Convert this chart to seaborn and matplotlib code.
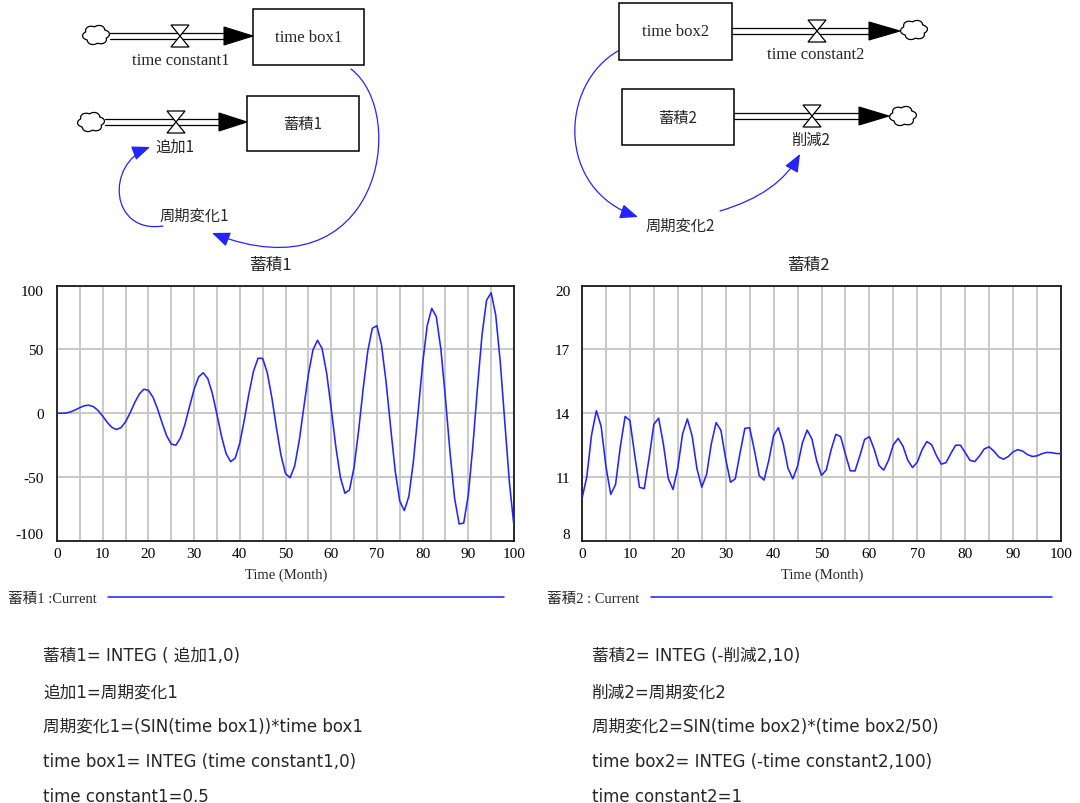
import numpy as np
import pandas as pd
import matplotlib
matplotlib.use("Agg")
import matplotlib.pyplot as plt
import seaborn as sns
from matplotlib.path import Path
from matplotlib.patches import FancyArrowPatch, Rectangle, Polygon

# ---------------- data ----------------
months = list(range(0, 101))

stock1 = [0.0, 0.0, 0.2, 1.1, 2.6, 4.4, 5.9, 6.3, 5.1, 2.1,
          -2.3, -7.1, -11.0, -12.7, -11.3, -6.7, 0.3, 8.3, 15.0, 18.8,
          18.0, 12.6, 3.4, -7.6, -17.7, -24.1, -25.0, -19.5, -8.7, 5.2,
          18.8, 28.5, 31.7, 27.1, 15.4, -1.0, -18.1, -31.6, -37.9, -35.1,
          -23.3, -5.0, 15.4, 33.0, 43.1, 42.9, 31.9, 12.5, -11.0, -32.7,
          -47.2, -50.5, -41.4, -21.5, 4.4, 30.2, 49.5, 57.1, 50.7, 31.5,
          3.7, -25.9, -50.1, -62.6, -60.0, -42.3, -13.6, 19.4, 48.6, 66.5,
          68.5, 53.5, 24.8, -10.9, -45.0, -68.8, -76.2, -65.0, -37.3, 0.3,
          38.7, 68.5, 82.1, 75.6, 50.1, 11.6, -30.7, -66.5, -86.7, -85.9,
          -63.9, -25.6, 19.8, 61.3, 88.5, 94.3, 76.8, 39.9, -7.6, -54.4,
          -88.7]

stock2 = [10.00, 11.01, 12.99, 14.12, 13.38, 11.49, 10.19, 10.65, 12.42, 13.85,
          13.66, 12.05, 10.52, 10.46, 11.89, 13.48, 13.77, 12.54, 10.94, 10.42,
          11.44, 13.03, 13.73, 12.93, 11.39, 10.53, 11.12, 12.57, 13.56, 13.20,
          11.85, 10.76, 10.92, 12.14, 13.29, 13.32, 12.25, 11.07, 10.86, 11.78,
          12.96, 13.32, 12.57, 11.42, 10.92, 11.51, 12.60, 13.21, 12.79, 11.76,
          11.08, 11.34, 12.28, 13.01, 12.90, 12.07, 11.30, 11.29, 12.00, 12.77,
          12.90, 12.31, 11.55, 11.33, 11.80, 12.52, 12.82, 12.46, 11.80, 11.45,
          11.70, 12.29, 12.67, 12.52, 12.01, 11.61, 11.68, 12.11, 12.50, 12.50,
          12.15, 11.79, 11.73, 12.00, 12.33, 12.42, 12.22, 11.95, 11.84, 11.97,
          12.19, 12.29, 12.22, 12.06, 11.97, 12.00, 12.10, 12.16, 12.15, 12.11,
          12.10]

x_ticks = [0, 10, 20, 30, 40, 50, 60, 70, 80, 90, 100]
x_grid = list(range(0, 101, 5))
y_ticks1 = [-100, -50, 0, 50, 100]
y_ticks2 = [8, 11, 14, 17, 20]
titles = ["蓄積1", "蓄積2"]
legend_labels = ["蓄積1 :Current", "蓄積2 : Current"]
x_label = "Time (Month)"

eq_left = ["蓄積1= INTEG ( 追加1,0)",
           "追加1=周期変化1",
           "周期変化1=(SIN(time box1))*time box1",
           "time box1= INTEG (time constant1,0)",
           "time constant1=0.5"]
eq_right = ["蓄積2= INTEG (-削減2,10)",
            "削減2=周期変化2",
            "周期変化2=SIN(time box2)*(time box2/50)",
            "time box2= INTEG (-time constant2,100)",
            "time constant2=1"]

# ---------------- style ----------------
W, H = 1080, 804
sns.set_theme(style="white")
SERIF = ['Liberation Serif', 'Noto Sans CJK JP']
SANS = ['DejaVu Sans', 'Noto Sans CJK JP']
CJK = ['Noto Sans CJK JP', 'DejaVu Sans']
plt.rcParams['font.family'] = SERIF
plt.rcParams['axes.unicode_minus'] = False

BLUE = '#2424ff'
GRID = '#c8c8c8'

fig = plt.figure(figsize=(W / 100, H / 100), dpi=100)
fig.patch.set_facecolor('white')


def rect(l, t, r, b):
    return [l / W, 1 - b / H, (r - l) / W, (b - t) / H]


def ftext(x, y, s, **kw):
    fig.text(x / W, 1 - y / H, s, **kw)


# ---------------- diagram overlay (pixel coordinates) ----------------
ov = fig.add_axes([0, 0, 1, 1])
ov.set_xlim(0, W)
ov.set_ylim(H, 0)
ov.axis('off')


def cloud(cx, cy, w=27, h=20):
    th = np.linspace(0, 2 * np.pi, 240)
    r = 0.82 + 0.18 * np.abs(np.cos(3 * th + 0.4))
    pts = np.column_stack([cx + w / 2 * r * np.cos(th), cy + h / 2 * r * np.sin(th)])
    ov.add_patch(Polygon(pts, closed=True, facecolor='white', edgecolor='black', lw=0.9, zorder=3))


def valve(cx, cy, hw=9, hh=11):
    ov.add_patch(Polygon([(cx - hw, cy - hh), (cx + hw, cy - hh), (cx, cy)], closed=True,
                         facecolor='white', edgecolor='black', lw=0.9, zorder=4))
    ov.add_patch(Polygon([(cx - hw, cy + hh), (cx + hw, cy + hh), (cx, cy)], closed=True,
                         facecolor='white', edgecolor='black', lw=0.9, zorder=4))


def pipe(x0, xb, xt, cy):
    for dy in (-2.6, 2.6):
        ov.plot([x0, xb], [cy + dy, cy + dy], color='black', lw=0.9, zorder=2)
    ov.add_patch(Polygon([(xb, cy - 9), (xb, cy + 9), (xt, cy)], closed=True,
                         facecolor='black', edgecolor='black', lw=0.8, zorder=3))


def box(l, t, r, b, label, fam, size):
    ov.add_patch(Rectangle((l, t), r - l, b - t, facecolor='white', edgecolor='black', lw=1.1, zorder=3))
    ov.text((l + r) / 2, (t + b) / 2, label, ha='center', va='center', family=fam, fontsize=size, zorder=5)


def link(verts):
    codes = [Path.MOVETO, Path.CURVE4, Path.CURVE4, Path.CURVE4]
    p = FancyArrowPatch(path=Path(verts, codes), arrowstyle='-|>,head_length=1.1,head_width=0.45',
                        mutation_scale=10, color=BLUE, lw=0.9, zorder=2)
    ov.add_patch(p)


# left diagram
pipe(110, 224, 253, 37)
cloud(96, 36)
valve(180, 37)
box(253, 10, 364, 66, "time box1", SERIF, 12)
ov.text(181, 61, "time constant1", ha='center', va='center', family=SERIF, fontsize=12)

pipe(105, 219, 247, 123)
cloud(91, 123)
valve(176, 123)
box(247, 97, 359, 152, "蓄積1", CJK, 11)
ov.text(175, 147, "追加1", ha='center', va='center', family=CJK, fontsize=11)
ov.text(194, 216, "周期変化1", ha='center', va='center', family=CJK, fontsize=11)

link([(351, 70), (410, 115), (380, 300), (212, 234)])
link([(163, 227), (110, 235), (105, 165), (150, 148)])

# right diagram
box(619, 4, 732, 61, "time box2", SERIF, 12)
pipe(732, 869, 900, 32)
valve(817, 32)
cloud(914, 31)
ov.text(816, 55, "time constant2", ha='center', va='center', family=SERIF, fontsize=12)

box(622, 90, 734, 146, "蓄積2", CJK, 11)
pipe(734, 859, 889, 117)
valve(812, 117)
cloud(903, 117)
ov.text(810, 140, "削減2", ha='center', va='center', family=CJK, fontsize=11)
ov.text(680, 226, "周期変化2", ha='center', va='center', family=CJK, fontsize=11)

link([(618, 52), (560, 85), (555, 190), (638, 218)])
link([(720, 212), (760, 200), (785, 182), (800, 155)])


# ---------------- charts ----------------
def draw_chart(bx, values, yticks, title, title_x, xlabel_x, leg_label, leg_xy, handle_len, ypad):
    ax = fig.add_axes(rect(*bx))
    df = pd.DataFrame({'month': months, 'value': values})
    sns.lineplot(data=df, x='month', y='value', ax=ax, color=BLUE, lw=1.15,
                 label=leg_label, zorder=3)
    ax.set_xlim(x_ticks[0], x_ticks[-1])
    ax.set_ylim(yticks[0], yticks[-1])
    ax.set_xticks(x_ticks)
    ax.set_xticks(x_grid, minor=True)
    ax.set_yticks(yticks)
    ax.grid(True, which='both', axis='x', color=GRID, lw=1.4)
    ax.grid(True, which='major', axis='y', color=GRID, lw=1.4)
    ax.set_axisbelow(True)
    ax.set_facecolor('white')
    ax.tick_params(axis='both', which='both', length=0, labelsize=11, colors='black')
    ax.tick_params(axis='x', pad=4.5)
    ax.tick_params(axis='y', pad=ypad)
    for lab in ax.get_xticklabels() + ax.get_yticklabels():
        lab.set_family(SERIF)
    ticks = ax.yaxis.get_major_ticks()
    ticks[0].label1.set_va('bottom')
    ticks[-1].label1.set_va('top')
    for sp in ax.spines.values():
        sp.set_visible(True)
        sp.set_color('#1a1a1a')
        sp.set_linewidth(1.3)
    ax.set_xlabel('')
    ax.set_ylabel('')
    ftext(title_x, 265, title, ha='center', va='center', family=CJK, fontsize=12)
    ftext(xlabel_x, 575, x_label, ha='center', va='center', family=SERIF, fontsize=10.5)
    ax.legend(loc='center left', bbox_to_anchor=(leg_xy[0] / W, 1 - leg_xy[1] / H),
              bbox_transform=fig.transFigure, markerfirst=False, frameon=False,
              handlelength=handle_len, handletextpad=0.8, borderpad=0, borderaxespad=0,
              prop={'family': SERIF, 'size': 10.5})
    return ax


draw_chart((57, 286.5, 514, 542), stock1, y_ticks1, titles[0], 270, 286, legend_labels[0],
           (8, 599), 27.1, 9.5)
draw_chart((582, 286.5, 1061, 542), stock2, y_ticks2, titles[1], 808, 822, legend_labels[1],
           (547, 599), 27.5, 8.5)

# ---------------- equations ----------------
eq_y = [656, 692, 727, 762, 797]
for yy, s in zip(eq_y, eq_left):
    ftext(43, yy, s, ha='left', va='center', family=SANS, fontsize=12)
for yy, s in zip(eq_y, eq_right):
    ftext(592, yy, s, ha='left', va='center', family=SANS, fontsize=12)

fig.savefig("out.png", dpi=100, facecolor='white')
